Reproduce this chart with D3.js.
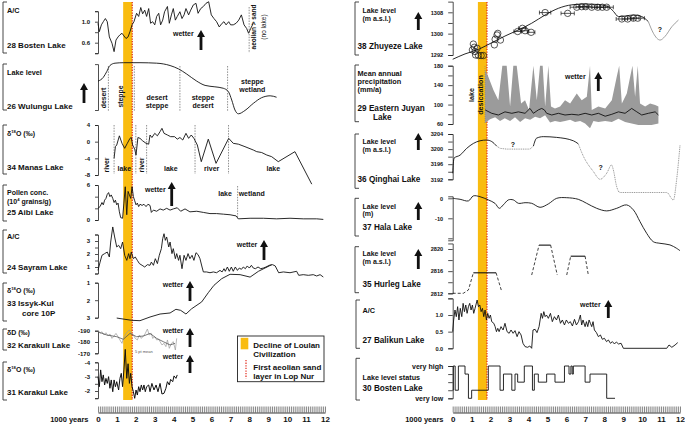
<!DOCTYPE html>
<html><head><meta charset="utf-8">
<script src="https://cdn.jsdelivr.net/npm/d3@7"></script>
<style>
body{margin:0;background:#fff}
svg text{font-family:"Liberation Sans",Arial,sans-serif;font-weight:bold;fill:#111}
</style></head><body><svg id="c" width="685" height="425"></svg>
<script>
// ---------------- DATA (years in ka BP, values) ----------------
const yearLabels = [0,1,2,3,4,5,6,7,8,9,10,11,12];
const loulanBand = [1.33, 1.81];
const aeolianYear = 1.81;

const bosten28 = [[0,0.97],[0.07,0.81],[0.18,0.94],[0.28,1.0],[0.39,1.06],[0.49,1.0],[0.6,0.71],[0.74,0.59],[0.85,0.43],[0.95,0.65],[1.06,0.71],[1.16,0.75],[1.27,0.78],[1.37,0.73],[1.48,0.68],[1.59,0.71],[1.69,0.81],[1.8,0.94],[1.9,1.0],[2.04,1.16],[2.15,1.10],[2.26,1.27],[2.36,1.15],[2.47,1.22],[2.57,1.10],[2.68,1.25],[2.78,0.97],[2.89,1.0],[3.0,0.94],[3.1,1.10],[3.21,1.16],[3.31,0.94],[3.42,1.03],[3.52,1.19],[3.67,1.29],[3.77,0.97],[3.88,1.13],[3.98,1.25],[4.09,1.03],[4.19,1.10],[4.33,1.19],[4.44,1.06],[4.55,1.13],[4.65,1.25],[4.79,1.13],[4.9,1.22],[5.04,1.32],[5.18,1.35],[5.29,1.16],[5.43,1.25],[5.57,1.29],[5.71,1.35],[5.85,1.38],[5.99,1.13],[6.13,1.06],[6.27,1.0],[6.41,0.9],[6.56,0.97],[6.66,1.0],[6.77,0.94],[6.91,1.0],[7.01,0.94],[7.15,0.94],[7.3,0.97],[7.44,1.03],[7.58,1.13],[7.72,0.94],[7.86,0.87],[7.96,0.78],[8.07,0.87],[8.21,0.97]];
const bostenAeolianYear = 7.99;

const wulungu26 = [[0,61],[0.28,69],[0.46,81],[0.63,94],[0.9,99],[1.34,100],[2.22,100],[3.1,99],[3.81,94],[4.25,87],[4.69,76],[5.22,61],[5.66,52],[6.18,49],[6.62,46],[6.89,39],[7.07,21],[7.24,0],[7.42,-8],[7.77,-1],[8.21,14],[8.65,26],[9.1,30],[9.44,27]];
const wulunguZones = [0.55,1.92,4.33,6.85];

const manas34 = [[0.85,-4.0],[0.92,-1.2],[0.99,-0.8],[1.13,1.4],[1.27,-0.4],[1.41,-1.6],[1.55,-0.4],[1.69,0.8],[1.76,1.0],[1.83,-0.8],[1.94,-1.8],[2.01,-3.2],[2.11,1.0],[2.22,0.8],[2.36,0.2],[2.54,-0.4],[2.68,-0.6],[2.75,1.6],[2.85,1.0],[3.0,2.0],[3.14,1.4],[3.28,2.4],[3.38,3.2],[3.49,2.0],[3.67,1.6],[3.84,1.2],[4.05,1.2],[4.19,0.6],[4.33,1.0],[4.48,0.4],[4.65,2.0],[4.79,0.8],[4.93,1.6],[5.07,0.8],[5.25,-0.8],[5.46,-4.8],[5.83,0.6],[6.24,-5.2],[6.91,0.8],[7.15,-0.4],[7.42,-0.6],[7.77,-1.2],[8.21,-2.0],[8.39,-2.4],[8.65,-2.6],[8.92,-3.2],[9.18,-3.6],[9.53,-4.8],[10.41,-2.4],[11.3,-10.2]];
const manasZones = [0.85,2.0,2.57,5.13,6.9];

const aibi25 = [[0,2.0],[0.11,2.3],[0.21,3.0],[0.28,2.6],[0.35,3.4],[0.42,3.7],[0.49,4.4],[0.56,4.7],[0.63,4.0],[0.70,4.3],[0.78,3.7],[0.85,3.0],[0.92,3.4],[0.99,2.6],[1.06,2.9],[1.13,1.4],[1.20,0.4],[1.30,0.3],[1.37,2.9],[1.44,5.7],[1.52,0.9],[1.59,4.9],[1.66,4.3],[1.73,3.7],[1.80,5.7],[1.87,4.0],[1.94,3.3],[2.01,2.6],[2.08,2.9],[2.15,2.3],[2.22,2.7],[2.33,2.5],[2.43,2.7],[2.54,2.3],[2.64,2.7],[2.75,2.5],[2.82,1.3],[2.93,1.7],[3.10,1.5],[3.28,1.9],[3.45,1.7],[3.63,2.0],[3.81,1.7],[3.98,1.9],[4.19,2.1],[4.37,1.5],[4.60,1.9],[4.86,1.4],[5.22,1.5],[5.57,1.3],[5.92,1.1],[6.27,1.1],[6.63,1.0],[6.98,0.9],[7.30,0.7],[7.42,0.2],[8.04,0.3],[8.74,0.3],[9.44,0.2],[10.15,0.3],[10.85,0.2],[11.56,0.2],[11.91,0.1]];
const aibiZones = [7.38];

const sayram24 = [[0,0.74],[0.11,1.38],[0.21,1.90],[0.35,2.03],[0.49,2.15],[0.60,1.77],[0.67,2.92],[0.78,4.08],[0.88,3.31],[0.99,2.54],[1.09,2.67],[1.20,2.41],[1.30,2.92],[1.41,1.90],[1.52,1.51],[1.62,2.03],[1.69,1.64],[1.76,2.15],[1.87,1.64],[1.97,1.77],[2.08,1.51],[2.19,1.26],[2.33,1.13],[2.47,1.0],[2.61,1.18],[2.75,1.13],[2.82,1.38],[2.93,1.13],[3.03,1.64],[3.14,1.26],[3.24,1.90],[3.35,2.41],[3.42,3.18],[3.49,3.56],[3.56,3.05],[3.63,3.31],[3.74,2.54],[3.81,2.92],[3.91,2.03],[3.98,2.41],[4.09,1.64],[4.16,2.03],[4.26,1.51],[4.33,1.90],[4.44,0.87],[4.55,1.90],[4.65,1.51],[4.76,2.03],[4.86,1.64],[4.97,1.90],[5.07,1.51],[5.18,2.10],[5.29,1.95],[5.39,1.64],[5.50,1.0],[5.57,0.62],[5.74,0.62],[5.92,0.56],[6.10,0.62],[6.27,0.56],[6.45,0.74],[6.56,0.62],[6.66,0.87],[6.73,0.67],[6.84,1.0],[6.94,0.67],[7.05,1.0],[7.15,0.67],[7.26,1.0],[7.37,0.74],[7.47,0.92],[7.58,0.82],[7.68,1.0],[7.79,0.87],[7.89,1.08],[8.0,0.92],[8.11,1.13],[8.21,0.92],[8.32,0.87],[8.46,1.0],[8.60,0.87],[8.74,0.92],[8.88,1.0],[9.06,1.13],[9.23,1.18],[9.37,1.08],[9.55,0.56],[9.80,0.62],[10.15,0.56],[10.50,0.67],[10.61,0.36],[10.85,0.41],[11.12,0.36],[11.38,0.41],[11.56,0.31],[11.74,0.41],[11.91,0.23]];

const issyk33 = [[0.99,3.02],[1.78,3.15],[2.22,3.17],[2.75,2.96],[3.28,2.79],[3.81,2.73],[4.12,2.52],[4.37,2.58],[4.65,2.79],[4.95,2.49],[5.48,2.10],[5.83,1.57],[6.13,1.15],[6.54,0.77],[6.98,0.52],[7.51,0.54],[8.04,0.68],[8.48,0.35],[8.83,0.16],[9.18,-0.03]];

const karakuliRaw = [[0,-190.6],[0.11,-187.6],[0.21,-189.1],[0.32,-186.2],[0.42,-188.2],[0.53,-185.3],[0.63,-187.1],[0.74,-183.2],[0.85,-185.3],[0.95,-187.6],[1.06,-184.7],[1.16,-181.8],[1.27,-178.8],[1.34,-183.2],[1.44,-186.2],[1.55,-189.1],[1.66,-190.6],[1.76,-187.6],[1.87,-186.2],[1.97,-183.2],[2.08,-181.8],[2.19,-186.2],[2.29,-183.2],[2.40,-185.3],[2.50,-187.6],[2.61,-191.5],[2.71,-186.2],[2.82,-187.6],[2.89,-183.2],[3.0,-184.7],[3.10,-181.8],[3.21,-182.4],[3.28,-180.3],[3.38,-177.4],[3.49,-178.8],[3.59,-175.9],[3.67,-181.8],[3.77,-174.4],[3.88,-178.8],[3.98,-180.3],[4.09,-172.9],[4.16,-183.2]];
const karakuliMean = [[0,-189],[0.46,-186.2],[0.99,-184.7],[1.34,-182.4],[1.69,-187.6],[2.04,-184.7],[2.4,-185.3],[2.75,-187.6],[3.1,-183.2],[3.45,-180.3],[3.81,-177.4],[4.07,-178.8]];

const karakul31 = [[0,-3.0],[0.07,-2.3],[0.14,-3.47],[0.21,-2.65],[0.28,-3.12],[0.35,-2.42],[0.42,-2.88],[0.49,-2.53],[0.56,-3.0],[0.63,-2.19],[0.70,-2.77],[0.78,-1.95],[0.85,-2.77],[0.92,-2.3],[0.99,-2.65],[1.09,-2.07],[1.16,-2.88],[1.23,-3.23],[1.30,-2.3],[1.37,-3.47],[1.44,-4.9],[1.52,-2.88],[1.59,-3.9],[1.66,-2.53],[1.73,-3.23],[1.80,-2.3],[1.87,-1.95],[1.94,-1.49],[2.01,-2.07],[2.08,-1.72],[2.15,-2.3],[2.22,-1.95],[2.29,-2.42],[2.36,-2.07],[2.43,-2.42],[2.50,-1.95],[2.57,-2.3],[2.68,-2.42],[2.75,-1.95],[2.85,-2.53],[2.96,-2.07],[3.07,-2.42],[3.17,-1.95],[3.28,-2.53],[3.38,-1.79],[3.49,-1.84],[3.59,-2.19],[3.67,-2.65],[3.77,-2.42],[3.84,-2.81],[3.95,-2.65],[4.02,-3.05],[4.12,-2.88],[4.19,-3.12]];

const zhuyezeCurve = [[0,1290.4],[0.65,1292.4],[1.36,1294.1],[2.06,1296.6],[2.76,1299.1],[3.47,1301.4],[4.17,1303.9],[4.88,1307.0],[5.58,1309.5],[6.29,1310.8],[6.99,1311.1],[7.69,1310.9],[8.22,1310.1],[8.49,1308.3],[8.75,1306.4],[9.10,1306.6],[9.54,1307.0],[9.98,1306.4],[10.33,1304.5]];
const zhuyezeCurveLate = [[10.33,1304.5],[10.6,1300.1],[10.95,1297.6],[11.2,1298.9],[11.57,1302.6],[11.92,1305.1]];
const zhuyezeDates = [[1.09,1296.1,0],[1.14,1294.9,0],[1.04,1293.9,0],[1.18,1293.3,0],[1.29,1294.5,0],[1.21,1292.0,0],[1.36,1291.8,0],[1.50,1291.8,0],[1.62,1291.8,0],[2.20,1295.8,0],[2.24,1297.9,0],[2.34,1299.5,0],[2.38,1300.1,0],[2.52,1297.6,0],[3.43,1300.8,0.2],[3.68,1302.0,0.2],[3.82,1301.1,0.2],[4.14,1300.5,0.2],[4.88,1307.9,0.3],[6.07,1307.6,0.35],[6.55,1309.9,0.35],[6.81,1310.1,0.3],[7.02,1310.1,0.3],[7.34,1309.9,0.3],[7.66,1309.9,0.3],[7.90,1309.9,0.3],[8.13,1309.9,0.35],[8.93,1305.5,0.3],[9.24,1305.5,0.3],[9.54,1305.8,0.3],[9.77,1305.8,0.35]];
const zhuyezeLabelled = [1292,1300,1308];

const juyanUpper = [[1.71,171],[1.88,157],[2.15,130],[2.41,109],[2.62,180],[2.85,180],[3.03,96],[3.20,180],[3.38,180],[3.61,102],[3.82,109],[4.03,89],[4.26,180],[4.44,109],[4.61,180],[4.75,180],[4.88,96],[5.05,180],[5.19,96],[5.40,92],[5.67,96],[5.93,109],[6.20,102],[6.55,123],[6.81,109],[7.08,116],[7.25,180],[7.34,89],[7.69,96],[8.05,92],[8.40,109],[8.66,157],[8.79,180],[8.93,102],[9.19,123],[9.37,157],[9.49,180],[9.63,116],[9.77,180],[9.89,102],[10.16,96],[10.42,102],[10.69,99],[10.86,96]];
const juyanLower = [[1.71,62],[1.97,70],[2.24,74],[2.5,66],[2.75,72],[3.03,66],[3.29,74],[3.56,64],[3.82,72],[4.09,69],[4.35,75],[4.61,72],[4.88,78],[5.14,63],[5.40,66],[5.67,64],[5.93,66],[6.2,69],[6.46,64],[6.73,66],[6.99,61],[7.25,51],[7.43,66],[7.69,64],[8.05,66],[8.4,64],[8.75,71],[9.1,64],[9.45,61],[9.8,58],[10.16,58],[10.5,58],[10.86,61]];
const juyanMean = [[1.71,89],[2.06,82],[2.41,78.5],[2.76,85],[3.12,82],[3.47,85],[3.82,82],[4.08,92],[4.26,82],[4.52,89],[4.70,92],[4.84,89],[4.96,82],[5.23,78.5],[5.58,82],[5.93,78.5],[6.29,80],[6.64,78.5],[6.99,82],[7.34,78.5],[7.69,82],[8.05,76],[8.40,80],[8.75,85],[9.10,82],[9.45,92],[9.72,85],[9.98,78.5],[10.33,82],[10.69,85],[10.86,78.5]];

const qinghaiSolidA = [[0,3193.6],[0.07,3197.6],[0.39,3198.4],[0.74,3200.2],[1.09,3201.5],[1.44,3202.2],[1.79,3202.4],[2.06,3202.0],[2.32,3200.8]];
const qinghaiDottedA = [[2.32,3200.8],[2.5,3200.2],[2.85,3200.0],[4.08,3200.0],[4.26,3200.8]];
const qinghaiSolidB = [[4.26,3200.8],[4.43,3202.9],[4.78,3203.3],[5.49,3203.1],[6.37,3202.2],[6.63,3201.4]];
const qinghaiDottedB = [[6.63,3201.4],[6.9,3198.1],[7.42,3194.1],[7.78,3192.0],[8.13,3193.6],[8.39,3195.8],[8.48,3194.5],[8.66,3190.0],[8.83,3188.5],[11.3,3188.5],[11.65,3186.5],[11.82,3191.8],[12.0,3201.0]];

const hala37 = [[0,0],[0.39,-0.5],[0.83,-1.3],[1.09,1.2],[1.44,0.8],[1.88,-0.8],[2.23,-2.5],[2.46,-5],[2.67,-3.3],[2.94,-0.8],[3.2,-0.8],[3.47,-2.5],[3.82,-2.2],[4.17,-2.5],[4.61,-4.5],[5.05,-2.8],[5.49,0],[6.02,0.3],[6.63,-0.5],[7.07,-2.5],[7.6,-5],[8.13,-6.3],[8.66,-5],[9.18,-3.3],[9.54,-5.8],[9.89,-11.7],[10.24,-17.5],[10.59,-21.7],[10.94,-22.5],[11.47,-23.3],[11.82,-25],[12.0,-26.2]];

const hurlegSolid = [[[1.09,2815.7],[2.29,2815.7]],[[4.56,2820.7],[5.17,2820.7]],[[6.23,2818.7],[6.99,2818.7]]];
const hurlegDashed = [[[0,2812],[0.56,2812],[0.83,2812.6],[1.09,2815.7]],[[2.29,2815.7],[2.59,2812.3]],[[4.17,2815.3],[4.56,2820.7]],[[5.17,2820.7],[5.52,2815.3]],[[6.02,2815.3],[6.23,2818.7]],[[6.99,2818.7],[7.16,2815.3]]];

const balikun27 = [[0,0.5],[0.05,0.85],[0.12,1.15],[0.19,0.95],[0.26,1.25],[0.33,0.85],[0.40,1.2],[0.48,0.95],[0.55,1.35],[0.62,1.1],[0.69,1.3],[0.76,1.05],[0.83,1.25],[0.90,1.35],[0.97,1.15],[1.04,1.3],[1.11,1.05],[1.18,1.2],[1.29,1.45],[1.36,1.25],[1.43,1.3],[1.50,1.1],[1.57,1.2],[1.64,0.95],[1.71,1.15],[1.78,0.85],[1.85,1.05],[1.92,0.9],[1.99,1.0],[2.06,0.8],[2.17,0.75],[2.24,0.65],[2.31,0.5],[2.38,0.6],[2.45,0.5],[2.55,0.65],[2.66,0.55],[2.76,0.75],[2.87,0.5],[2.98,0.45],[3.08,0.55],[3.19,0.45],[3.29,0.53],[3.40,0.35],[3.50,0.5],[3.61,0.4],[3.71,0.15],[3.82,0.05],[3.96,0.03],[4.07,0.07],[4.17,0],[4.24,0.55],[4.35,0.57],[4.45,0.47],[4.56,0.65],[4.67,1.05],[4.74,0.9],[4.81,1.1],[4.88,0.95],[4.95,1.0],[5.05,0.9],[5.16,1.05],[5.26,0.8],[5.37,0.95],[5.48,0.85],[5.58,1.0],[5.69,0.75],[5.79,0.85],[5.90,0.7],[6.00,0.85],[6.11,0.75],[6.21,0.8],[6.32,0.67],[6.43,0.87],[6.53,0.7],[6.64,0.8],[6.74,1.0],[6.81,0.7],[6.88,0.85],[6.99,0.65],[7.06,0.8],[7.13,0.65],[7.20,0.85],[7.27,0.75],[7.34,0.65],[7.41,0.8],[7.48,0.55],[7.59,0.47],[7.69,0.35],[7.80,0.4],[7.90,0.27],[8.01,0.3],[8.12,0.2],[8.22,0.25],[8.33,0.15],[8.43,0.2],[8.54,0.13],[8.64,0.19],[8.75,0.13],[8.89,0.15],[9.01,0],[11.30,0],[11.42,0.1],[11.57,0.03],[11.74,0.1],[11.88,0.17]];

const bosten30 = [[0,2],[0.03,5],[0.13,2],[0.3,5],[0.65,4],[0.83,1],[1.0,2],[1.88,5],[2.5,2],[2.68,4],[3.12,2],[3.29,4],[3.43,3],[3.78,5],[4.21,2],[4.31,4],[4.52,3],[4.96,4],[5.4,3],[5.9,5],[6.14,4],[6.24,5],[6.31,4],[6.37,5],[6.99,3],[7.25,4],[8.13,1],[8.57,1]];
const bostenLevelNames = {5:'very high', 1:'very low'};

// ---------------- SETUP ----------------
const svg = d3.select('#c');
const xL = d3.scaleLinear().domain([0,12]).range([98,325]);
const xR = d3.scaleLinear().domain([0,12]).range([452.7,680]);
const YEL = '#F9BC10', RED = '#E2281B', INK = '#111';

const gBand = svg.append('g'), gMain = svg.append('g'), gTxt = svg.append('g');

// bands
[[xL],[xR]].forEach(([x])=>{
  gBand.append('rect').attr('x',x(loulanBand[0])).attr('y',2).attr('width',x(loulanBand[1])-x(loulanBand[0])).attr('height',398).attr('fill',YEL);
  gBand.append('line').attr('x1',x(aeolianYear)).attr('x2',x(aeolianYear)).attr('y1',2).attr('y2',400)
    .attr('stroke',RED).attr('stroke-width',1.2).attr('stroke-dasharray','1.3,1.3');
});

function line(data, x, y, o={}) {
  return gMain.append('path').datum(data)
    .attr('d', d3.line().x(d=>x(d[0])).y(d=>y(d[1])).curve(o.curve||d3.curveLinear))
    .attr('fill','none').attr('stroke',o.color||INK).attr('stroke-width',o.w||0.9)
    .attr('stroke-dasharray',o.dash||null).attr('stroke-linejoin','round');
}
function yAxis(x0, y, lo, hi, ticks, fmt, o={}) {
  const s = d3.scaleLinear().domain([lo,hi]).range([y(lo),y(hi)]);
  const ax = d3.axisLeft(s).tickValues(ticks).tickSizeOuter(0).tickSize(o.ts||3).tickPadding(o.tp||5).tickFormat(fmt||(d=>d));
  const a = gMain.append('g').attr('transform',`translate(${x0},0)`).call(ax);
  a.selectAll('text').style('font-size',(o.fs||6)+'px').style('font-weight','bold');
  a.selectAll('line').attr('stroke','#222').attr('stroke-width',0.8);
  a.select('.domain').attr('stroke','#222').attr('stroke-width',0.8);
  return a;
}
function txt(x,y,s,fs,anchor,o={}) {
  const t = gTxt.append('text').attr('x',x).attr('y',y).text(s).style('font-size',fs+'px').attr('text-anchor',anchor||'start');
  if (o.fill) t.style('fill',o.fill);
  if (o.weight) t.style('font-weight',o.weight);
  return t;
}
function rtxt(x,y,lines,fs,lh) {
  const t = gTxt.append('text').attr('transform',`translate(${x},${y}) rotate(-90)`).attr('text-anchor','middle').style('font-size',fs+'px');
  lines.forEach((l,i)=>t.append('tspan').attr('x',0).attr('dy', i===0?0:lh).text(l));
  return t;
}
function supTxt(x,y,pre,sup,post,fs) {
  const t = gTxt.append('text').attr('x',x).attr('y',y).style('font-size',fs+'px');
  t.append('tspan').text(pre);
  t.append('tspan').text(sup).attr('dy',-fs*0.4).style('font-size',(fs*0.6)+'px');
  t.append('tspan').text(post).attr('dy',fs*0.4);
}
function arrow(x,y1,y2) {
  gTxt.append('path').attr('d',`M${x-1.4},${y2}V${y1+7}H${x-4}L${x},${y1}L${x+4},${y1+7}H${x+1.4}V${y2}Z`).attr('fill',INK);
}
function bracket(x,y1,y2) {
  gTxt.append('path').attr('d',`M${x+4},${y1}H${x}V${y2}H${x+4}`).attr('fill','none').attr('stroke','#333').attr('stroke-width',0.9);
}
function vdash(x,y1,y2) {
  gMain.append('line').attr('x1',x).attr('x2',x).attr('y1',y1).attr('y2',y2).attr('stroke','#444').attr('stroke-width',0.6).attr('stroke-dasharray','1.5,1.2');
}
function timeAxis(x, yb) {
  const a = gMain.append('g').attr('transform',`translate(0,${yb})`)
    .call(d3.axisTop(x).tickValues(d3.range(0,121).map(i=>i/10)).tickSize(6).tickSizeOuter(0).tickFormat(''));
  a.selectAll('line').attr('stroke','#222').attr('stroke-width',0.55);
  a.select('.domain').attr('stroke','#222').attr('stroke-width',0.9);
  const b = gMain.append('g').attr('transform',`translate(0,${yb})`)
    .call(d3.axisBottom(x).tickValues(yearLabels).tickSize(0).tickPadding(4).tickFormat(d3.format('d')));
  b.select('.domain').remove();
  b.selectAll('text').style('font-size','8px').style('font-weight','bold');
}

// ---------------- LEFT COLUMN ----------------
const L0 = 98;
// 28 Bosten
const yB28 = d3.scaleLinear().domain([0.6,1.0]).range([42.7,21.7]);
yAxis(L0,yB28,0.4,1.2,[0.4,0.6,0.8,1.0,1.2],d=>(Math.abs(d-0.6)<1e-6||Math.abs(d-1)<1e-6)?d.toFixed(1):'');
line(bosten28,xL,yB28);
vdash(xL(bostenAeolianYear),7,53);
rtxt(255.5,27,['aeolian > sand'],6.5,0);
rtxt(265.5,27,['(no lake)'],6.5,0).style('font-weight','normal');
bracket(3,2,53); txt(7,13,'A/C',7.3); txt(7,48,'28 Bosten Lake',8);
txt(173,36,'wetter',7); arrow(201,30,50);

// 26 Wulungu
const yW = d3.scaleLinear().domain([0,100]).range([110,62.7]);
yAxis(L0,yW,0,97,[],null);
line(wulungu26,xL,yW,{curve:d3.curveMonotoneX});
wulunguZones.forEach(z=>vdash(xL(z),66,111));
rtxt(106,98,['desert'],6.8,0); rtxt(122.5,96.5,['steppe'],6.8,0);
txt(157,100,'desert',7,'middle'); txt(157,108.3,'steppe',7,'middle');
txt(203,100,'steppe',7,'middle'); txt(203,108.3,'desert',7,'middle');
txt(252.3,83.5,'steppe',7,'middle'); txt(252.3,92,'wetland',7,'middle');
bracket(3,64,110); txt(7,75,'Lake level',7.3); txt(7,109,'26 Wulungu Lake',8); arrow(84,83,103);

// 34 Manas
const yM = d3.scaleLinear().domain([-8,4]).range([175,125]);
yAxis(L0,yM,-8,4,[-8,-4,0,4]);
line(manas34,xL,yM);
manasZones.forEach(z=>vdash(xL(z),125,174));
rtxt(108.5,165,['river'],6.8,0); txt(124.3,171,'lake',7,'middle');
rtxt(144.2,165,['river'],6.8,0); txt(170.8,171,'lake',7,'middle');
txt(211.7,171,'river',7,'middle'); txt(273.3,171,'lake',7,'middle');
bracket(3,125,174); supTxt(7,136,'δ','18','O (‰)',7); txt(7,169.5,'34 Manas Lake',8);

// 25 Aibi
const yA = d3.scaleLinear().domain([0,6]).range([220,185]);
yAxis(L0,yA,0,6,[0,2,4,6],d=>(d===0||d===6)?d:'');
line(aibi25,xL,yA);
aibiZones.forEach(z=>vdash(xL(z),186,219));
txt(225,196,'lake',7,'middle'); txt(251.7,196,'wetland',7,'middle');
txt(145,191.5,'wetter',7); arrow(171.7,182,206);
bracket(3,185,221); txt(7,195,'Pollen conc.',7);
supTxt(7,204,'(10','4',' grains/g)',7); txt(7,214.5,'25 Aibi Lake',8);

// 24 Sayram
const yS = d3.scaleLinear().domain([1,3]).range([267,241]);
yAxis(L0,yS,0.5,3.5,[0.5,1,1.5,2,2.5,3,3.5],d=>(d===1||d===2||d===3)?d:'');
line(sayram24,xL,yS);
txt(236.7,247,'wetter',7); arrow(264,240,260);
bracket(3,230,273); txt(7,239,'A/C',7.3); txt(7,269.5,'24 Sayram Lake',8);

// 33 Issyk-Kul
const yI = d3.scaleLinear().domain([1,3]).range([282.7,317.7]);
yAxis(L0,yI,1,3,[1,2,3]);
line(issyk33,xL,yI);
txt(162.7,287,'wetter',7); arrow(190,281,301);
bracket(3,283,321); supTxt(7,292.5,'δ','18','O (‰)',7); txt(7,306,'33 Issyk-Kul',8); txt(22,315.5,'core 10P',8);

// 32 Karakuli
const yK = d3.scaleLinear().domain([-190,-170]).range([330.7,353.3]);
yAxis(L0,yK,-190,-170,[-190,-180,-170]);
line(karakuliRaw,xL,yK,{color:'#9a9a9a',w:0.7});
line(karakuliMean,xL,yK,{color:'#555',w:0.8});
txt(135,353.3,'5 pt mean',4,'start',{fill:'#555',weight:'normal'});
txt(162.7,332.5,'wetter',7); arrow(190,328,347);
bracket(3,329,350); txt(7,335,'δD (‰)',7); txt(7,348,'32 Karakuli Lake',8);

// 31 Karakul
const yKl = d3.scaleLinear().domain([-4,-2]).range([362.3,391]);
yAxis(L0,yKl,-4,-1.5,[-4,-3.5,-3,-2.5,-2,-1.5],d=>(d===-4||d===-3||d===-2)?d:'');
line(karakul31,xL,yKl,{w:1});
txt(162.7,358.5,'wetter',7); arrow(190,355,373);
bracket(3,362,400); supTxt(7,372,'δ','18','O (‰)',7); txt(7,394.5,'31 Karakul Lake',8);

timeAxis(xL,412.5);
txt(88.5,422,'1000 years',7.5,'end');

// legend
gTxt.append('rect').attr('x',237.5).attr('y',336).attr('width',86.5).attr('height',45.7).attr('fill','#fff').attr('stroke','#222').attr('stroke-width',0.9);
gTxt.append('rect').attr('x',240.7).attr('y',337.8).attr('width',7.6).attr('height',11.5).attr('fill',YEL);
gTxt.append('line').attr('x1',246).attr('x2',246).attr('y1',360).attr('y2',378.5).attr('stroke',RED).attr('stroke-width',1.2).attr('stroke-dasharray','1.3,1.3');
txt(253.3,348,'Decline of Loulan',8); txt(253.3,357,'Civilization',8);
txt(253.3,369.5,'First aeolian sand',8); txt(253.3,379,'layer in Lop Nur',8);

// ---------------- RIGHT COLUMN ----------------
const R0 = 452.7;
const ro = {ts:4.5,tp:5,fs:5.6};
// 38 Zhuyeze
const yZ = d3.scaleLinear().domain([1292,1308]).range([55,12.3]);
yAxis(R0,yZ,1292,1312,[1292,1296,1300,1304,1308],d=>zhuyezeLabelled.includes(d)?d:'',ro);
line(zhuyezeCurve,xR,yZ,{curve:d3.curveMonotoneX});
line(zhuyezeCurveLate,xR,yZ,{curve:d3.curveMonotoneX,color:'#888',w:0.8});
zhuyezeDates.forEach(([t,v,e])=>{
  if (e>0) {
    gMain.append('line').attr('x1',xR(t-e)).attr('x2',xR(t+e)).attr('y1',yZ(v)).attr('y2',yZ(v)).attr('stroke',INK).attr('stroke-width',0.7);
    [t-e,t+e].forEach(q=>gMain.append('line').attr('x1',xR(q)).attr('x2',xR(q)).attr('y1',yZ(v)-2).attr('y2',yZ(v)+2).attr('stroke',INK).attr('stroke-width',0.7));
  }
  gMain.append('circle').attr('cx',xR(t)).attr('cy',yZ(v)).attr('r',3.2).attr('fill','none').attr('stroke',INK).attr('stroke-width',0.7);
});
txt(660,31.5,'?',7,'middle');
bracket(355,2,55); txt(362.5,12.5,'Lake level',7); txt(362.5,21,'(m a.s.l.)',7); txt(357.5,49,'38 Zhuyeze Lake',8.2);
arrow(418.3,12,30);

// 29 Eastern Juyan
const yJ = d3.scaleLinear().domain([60,180]).range([124,65.7]);
yAxis(R0,yJ,60,180,[60,80,100,120,140,160,180],d=>(d%40===20)?d:'',ro);
gMain.append('path').attr('d', d3.line().x(d=>xR(d[0])).y(d=>yJ(d[1]))(juyanUpper.concat(juyanLower.slice().reverse()))+'Z')
  .attr('fill','#9b9b9b').attr('stroke','none');
line(juyanMean,xR,yJ,{w:0.9});
gMain.append('line').attr('x1',485).attr('x2',485).attr('y1',66).attr('y2',124).attr('stroke','#777').attr('stroke-width',0.5).attr('stroke-dasharray','1,1');
rtxt(474,95,['lake'],7.2,0); rtxt(482.5,95,['desiccation'],7.2,0);
txt(565,79,'wetter',7); arrow(598.3,72,91);
bracket(355,65,121.7); txt(357.5,75.5,'Mean annual',7.3); txt(357.5,83.8,'precipitation',7.3); txt(357.5,92,'(mm/a)',7.3);
txt(357.5,111,'29 Eastern Juyan',8.2); txt(373,119.5,'Lake',8.2);

// 36 Qinghai
const yQ = d3.scaleLinear().domain([3192,3204]).range([179.3,134]);
yAxis(R0,yQ,3192,3204,[3192,3194,3196,3198,3200,3202,3204],d=>(d%4===0)?d:'',ro);
line(qinghaiSolidA,xR,yQ,{curve:d3.curveMonotoneX});
line(qinghaiDottedA,xR,yQ,{color:'#888',w:0.9,dash:'1,0.8'});
line(qinghaiSolidB,xR,yQ,{curve:d3.curveMonotoneX});
line(qinghaiDottedB,xR,yQ,{color:'#888',w:0.9,dash:'1,0.8',curve:d3.curveMonotoneX});
txt(513,146.5,'?',7,'middle'); txt(600.7,169.5,'?',7,'middle');
bracket(355,134,188.3); txt(362.5,144,'Lake level',7); txt(362.5,152,'(m a.s.l.)',7); txt(357.5,182,'36 Qinghai Lake',8.2);
arrow(418.3,133,150);

// 37 Hala
const yH = d3.scaleLinear().domain([-10,0]).range([218.3,198.3]);
yAxis(R0,yH,-21,1,[0,-10,-20],d=>d===-20?'':d,ro);
line(hala37,xR,yH,{curve:d3.curveCatmullRom});
bracket(355,198.3,236); txt(362.5,208.5,'Lake level',7); txt(362.5,216,'(m)',7); txt(362.5,229.5,'37 Hala Lake',8.2);
arrow(418.3,202,220);

// 35 Hurleg
const yHu = d3.scaleLinear().domain([2812,2820]).range([293.3,249]);
yAxis(R0,yHu,2812,2821,[2812,2814,2816,2818,2820],d=>(d%4===0)?d:'',ro);
hurlegDashed.forEach(s=>line(s,xR,yHu,{dash:'3,2',w:0.8}));
hurlegSolid.forEach(s=>line(s,xR,yHu,{w:1.1}));
bracket(355,246.7,292.7); txt(362.5,256,'Lake level',7); txt(362.5,263.5,'(m a.s.l.)',7); txt(362.5,287,'35 Hurleg Lake',8.2);
arrow(418.3,249,269);

// 27 Balikun
const yBa = d3.scaleLinear().domain([0,1]).range([348.3,315]);
yAxis(R0,yBa,0,1.5,[0,0.5,1,1.5],d=>d===1.5?'':d.toFixed(1),ro);
line(balikun27,xR,yBa);
txt(580,306.5,'wetter',7); arrow(608.3,300,318);
bracket(356,300,348.3); txt(362.5,312.5,'A/C',7.3); txt(362.5,343,'27 Balikun Lake',8.2);

// 30 Bosten level status
const yBo = d3.scaleLinear().domain([1,5]).range([398.3,366]);
yAxis(R0,yBo,1,5,[1,2,3,4,5],d=>bostenLevelNames[d]||'',{ts:4.5,tp:5,fs:7});
line(bosten30,xR,yBo,{curve:d3.curveStepAfter,w:0.9});
bracket(356,358.3,400); txt(362.5,380,'Lake level status',7.2); txt(362.5,391,'30 Bosten Lake',8.2);

timeAxis(xR,412.5);
txt(443.5,422,'1000 years',7.5,'end');
</script></body></html>
